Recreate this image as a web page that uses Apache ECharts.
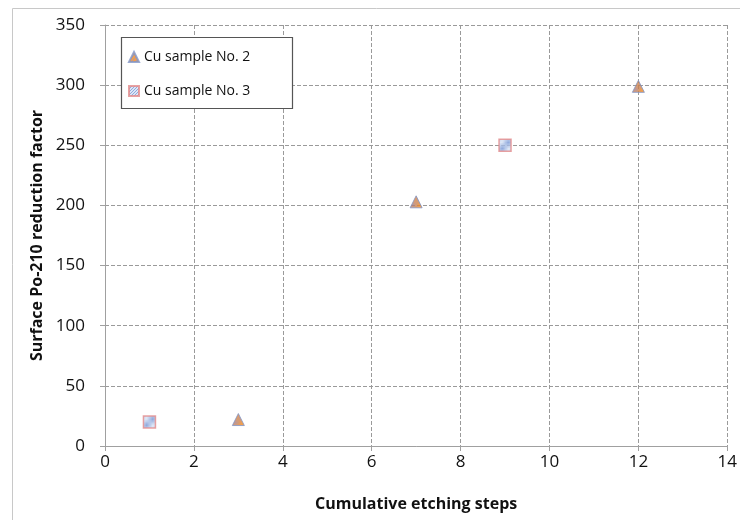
<!DOCTYPE html>
<html><head><meta charset="utf-8">
<script src="https://cdn.jsdelivr.net/npm/echarts@6/dist/echarts.min.js"></script>
<style>html,body{margin:0;padding:0;background:#fff}#c{width:740px;height:520px}</style>
</head><body><div id="c"></div>
<script>
const sample2X = [3, 7, 12];
const sample2Y = [22, 203, 299];
const sample3X = [1, 9];
const sample3Y = [20, 250];
const seriesNames = ['Cu sample No. 2', 'Cu sample No. 3'];
const xTitle = 'Cumulative etching steps';
const yTitle = 'Surface Po-210 reduction factor';

function hatch(bg, line, n) {
  const c = document.createElement('canvas');
  c.width = n; c.height = n;
  const g = c.getContext('2d');
  g.fillStyle = bg; g.fillRect(0, 0, n, n);
  g.strokeStyle = line; g.lineWidth = 1;
  g.beginPath();
  g.moveTo(-1, n + 1); g.lineTo(n + 1, -1);
  g.moveTo(-1, 1); g.lineTo(1, -1);
  g.moveTo(n - 1, n + 1); g.lineTo(n + 1, n - 1);
  g.stroke();
  return {image: c, repeat: 'repeat'};
}

const font = 'Open Sans';
const chart = echarts.init(document.getElementById('c'));
const gridLine = {show: true, lineStyle: {color: '#9a9a9a', type: [4, 2], width: 1}};
const tickLabel = {fontFamily: font, fontSize: 17, color: '#111'};
chart.setOption({
  animation: false,
  graphic: [
    {type: 'rect', shape: {x: 12.5, y: 8.5, width: 740, height: 520}, style: {fill: 'none', stroke: '#c8c8c8', lineWidth: 1}, z: -1},
    {type: 'rect', shape: {x: 121.5, y: 37.5, width: 171, height: 71}, style: {fill: '#fff', stroke: '#555', lineWidth: 1.2}, z: 10}
  ],
  legend: {
    orient: 'vertical', left: 123, top: 45, itemGap: 20, itemWidth: 10, itemHeight: 10,
    textStyle: {fontFamily: font, fontSize: 14, color: '#111'},
    data: seriesNames, z: 11
  },
  grid: {left: 105, right: 12, top: 25, bottom: 74},
  xAxis: {
    type: 'value', min: 0, max: 14, interval: 2,
    name: xTitle, nameLocation: 'middle', nameGap: 50,
    nameTextStyle: {fontFamily: font, fontSize: 16, fontWeight: 'bold', color: '#111'},
    axisLine: {show: true, lineStyle: {color: '#a0a0a0'}},
    axisTick: {show: true, length: 5, lineStyle: {color: '#a0a0a0'}},
    axisLabel: Object.assign({margin: 8}, tickLabel),
    splitLine: gridLine
  },
  yAxis: {
    type: 'value', min: 0, max: 350, interval: 50,
    name: yTitle, nameLocation: 'middle', nameGap: 58, nameRotate: 90,
    nameTextStyle: {fontFamily: font, fontSize: 16, fontWeight: 'bold', color: '#111'},
    axisLine: {show: true, lineStyle: {color: '#a0a0a0'}},
    axisTick: {show: true, length: 5, lineStyle: {color: '#a0a0a0'}},
    axisLabel: Object.assign({margin: 20}, tickLabel),
    splitLine: gridLine
  },
  series: [
    {
      name: seriesNames[0], type: 'scatter', symbol: 'triangle', symbolSize: 12,
      data: sample2X.map((x, i) => [x, sample2Y[i]]),
      itemStyle: {color: hatch('#ee8722', 'rgba(120,120,200,0.6)', 4), borderColor: '#7f95c8', borderWidth: 1}
    },
    {
      name: seriesNames[1], type: 'scatter', symbol: 'rect', symbolSize: 12,
      data: sample3X.map((x, i) => [x, sample3Y[i]]),
      itemStyle: {color: hatch('#d4e0f4', '#7393d4', 3), borderColor: '#e38a8a', borderWidth: 1.5}
    }
  ]
});
</script></body></html>
